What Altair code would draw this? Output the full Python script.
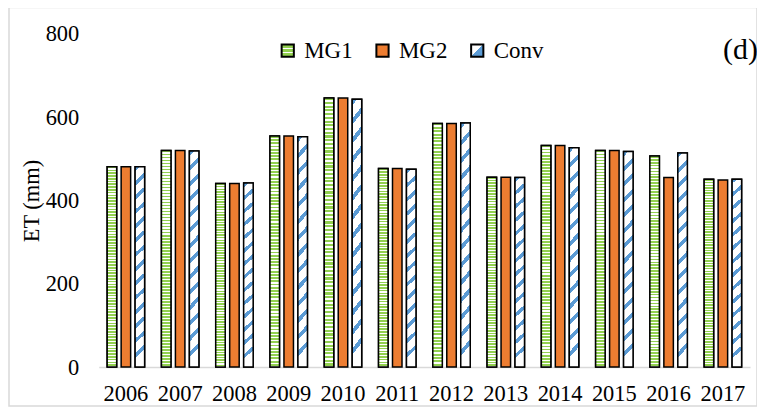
import altair as alt
import pandas as pd

years = ["2006", "2007", "2008", "2009", "2010", "2011", "2012", "2013", "2014", "2015", "2016", "2017"]
series_names = ["MG1", "MG2", "Conv"]
mg1 = [481, 520, 441, 555, 646, 477, 585, 456, 532, 520, 507, 451]
mg2 = [481, 520, 441, 555, 646, 477, 585, 456, 532, 520, 455, 449]
conv = [481, 519, 442, 553, 643, 475, 586, 455, 527, 518, 514, 451]
y_ticks = [0, 200, 400, 600, 800]

GREEN = "#92D050"
ORANGE = "#ED7D31"
BLUE = "#5B9BD5"
FONT = "Liberation Serif"

rows = []
for name, vals in zip(series_names, [mg1, mg2, conv]):
    for yr, v in zip(years, vals):
        rows.append({"year": yr, "series": name, "et": v})
df = pd.DataFrame(rows)


def stripes(n, c1, c2, frac, x2=0.0):
    stops = []
    for i in range(n):
        a = i / n
        b = (i + frac) / n
        c = (i + 1) / n
        stops += [
            {"offset": round(a, 5), "color": c1},
            {"offset": round(b, 5), "color": c1},
            {"offset": round(b, 5), "color": c2},
            {"offset": round(c, 5), "color": c2},
        ]
    return {"gradient": "linear", "x1": 0, "y1": 0, "x2": x2, "y2": 1, "stops": stops}


grad_mg1 = stripes(72, GREEN, "#ffffff", 0.58)
grad_conv = stripes(14, BLUE, "#ffffff", 0.33, x2=0.045)

# legend swatch fills (expression object literals)
leg_mg1 = (
    "{gradient:'linear',x1:0,y1:0,x2:0,y2:1,stops:["
    "{offset:0,color:'%s'},{offset:0.28,color:'%s'},{offset:0.28,color:'#ffffff'},{offset:0.38,color:'#ffffff'},"
    "{offset:0.38,color:'%s'},{offset:0.62,color:'%s'},{offset:0.62,color:'#ffffff'},{offset:0.72,color:'#ffffff'},"
    "{offset:0.72,color:'%s'},{offset:1,color:'%s'}]}"
) % (GREEN, GREEN, GREEN, GREEN, GREEN, GREEN)
leg_conv = (
    "{gradient:'linear',x1:0,y1:0,x2:1,y2:1,stops:["
    "{offset:0,color:'#ffffff'},{offset:0.5,color:'#ffffff'},{offset:0.5,color:'%s'},{offset:1,color:'%s'}]}"
) % (BLUE, BLUE)

W, H = 653, 334

base = alt.Chart(df).encode(
    x=alt.X(
        "year:O",
        sort=years,
        scale=alt.Scale(paddingInner=0.31, paddingOuter=0.155),
        axis=alt.Axis(
            title=None, labelAngle=0, ticks=False, domainColor="#d9d9d9", domainWidth=1.6,
            labelFont=FONT, labelFontSize=22.5, labelColor="black", labelPadding=16,
        ),
    ),
    xOffset=alt.XOffset("series:N", scale=alt.Scale(domain=series_names, paddingInner=0.32, paddingOuter=0)),
    y=alt.Y(
        "et:Q",
        scale=alt.Scale(domain=[0, 800]),
        axis=alt.Axis(
            values=y_ticks, title="ET (mm)", grid=False, domain=False, ticks=False,
            labelFont=FONT, labelFontSize=22.5, labelColor="black", labelPadding=20,
            titleFont=FONT, titleFontSize=22.5, titleFontWeight="normal", titleColor="black", titlePadding=2,
        ),
    ),
)

bars = base.mark_bar(stroke="black", strokeWidth=1.5).encode(
    fill=alt.Fill(
        "series:N",
        scale=alt.Scale(
            domain=series_names,
            range=[alt.ExprRef(expr=leg_mg1), ORANGE, alt.ExprRef(expr=leg_conv)],
        ),
        legend=alt.Legend(
            title=None, orient="none", legendX=178, legendY=5, direction="horizontal",
            symbolType="square", symbolSize=150, symbolStrokeColor="black", symbolStrokeWidth=2,
            labelFont=FONT, labelFontSize=23, labelColor="black", labelOffset=5, columnPadding=18,
            padding=0,
        ),
    )
)

mg1_layer = base.transform_filter(alt.datum.series == "MG1").mark_bar(
    fill=grad_mg1, stroke="black", strokeWidth=1.5
)
conv_layer = base.transform_filter(alt.datum.series == "Conv").mark_bar(
    fill=grad_conv, stroke="black", strokeWidth=1.5
)

frame = alt.Chart(alt.Data(values=[{"k": 1}])).mark_rect(
    filled=False, stroke="#d9d9d9", strokeWidth=1.5
).encode(x=alt.value(-90), x2=alt.value(660), y=alt.value(-26.5), y2=alt.value(373))

panel_label = alt.Chart(alt.Data(values=[{"k": 1}])).mark_text(
    font=FONT, fontSize=30, align="right", baseline="middle", color="black"
).encode(x=alt.value(661), y=alt.value(16), text=alt.value("(d)"))

chart = alt.layer(frame, bars, mg1_layer, conv_layer, panel_label).properties(
    width=W, height=H,
    autosize=alt.AutoSizeParams(type="none"),
    padding={"left": 91, "top": 25.5, "right": 7, "bottom": 42},
).configure_view(stroke=None)

chart.save("out.html", embed_options={"renderer": "svg", "actions": False})
